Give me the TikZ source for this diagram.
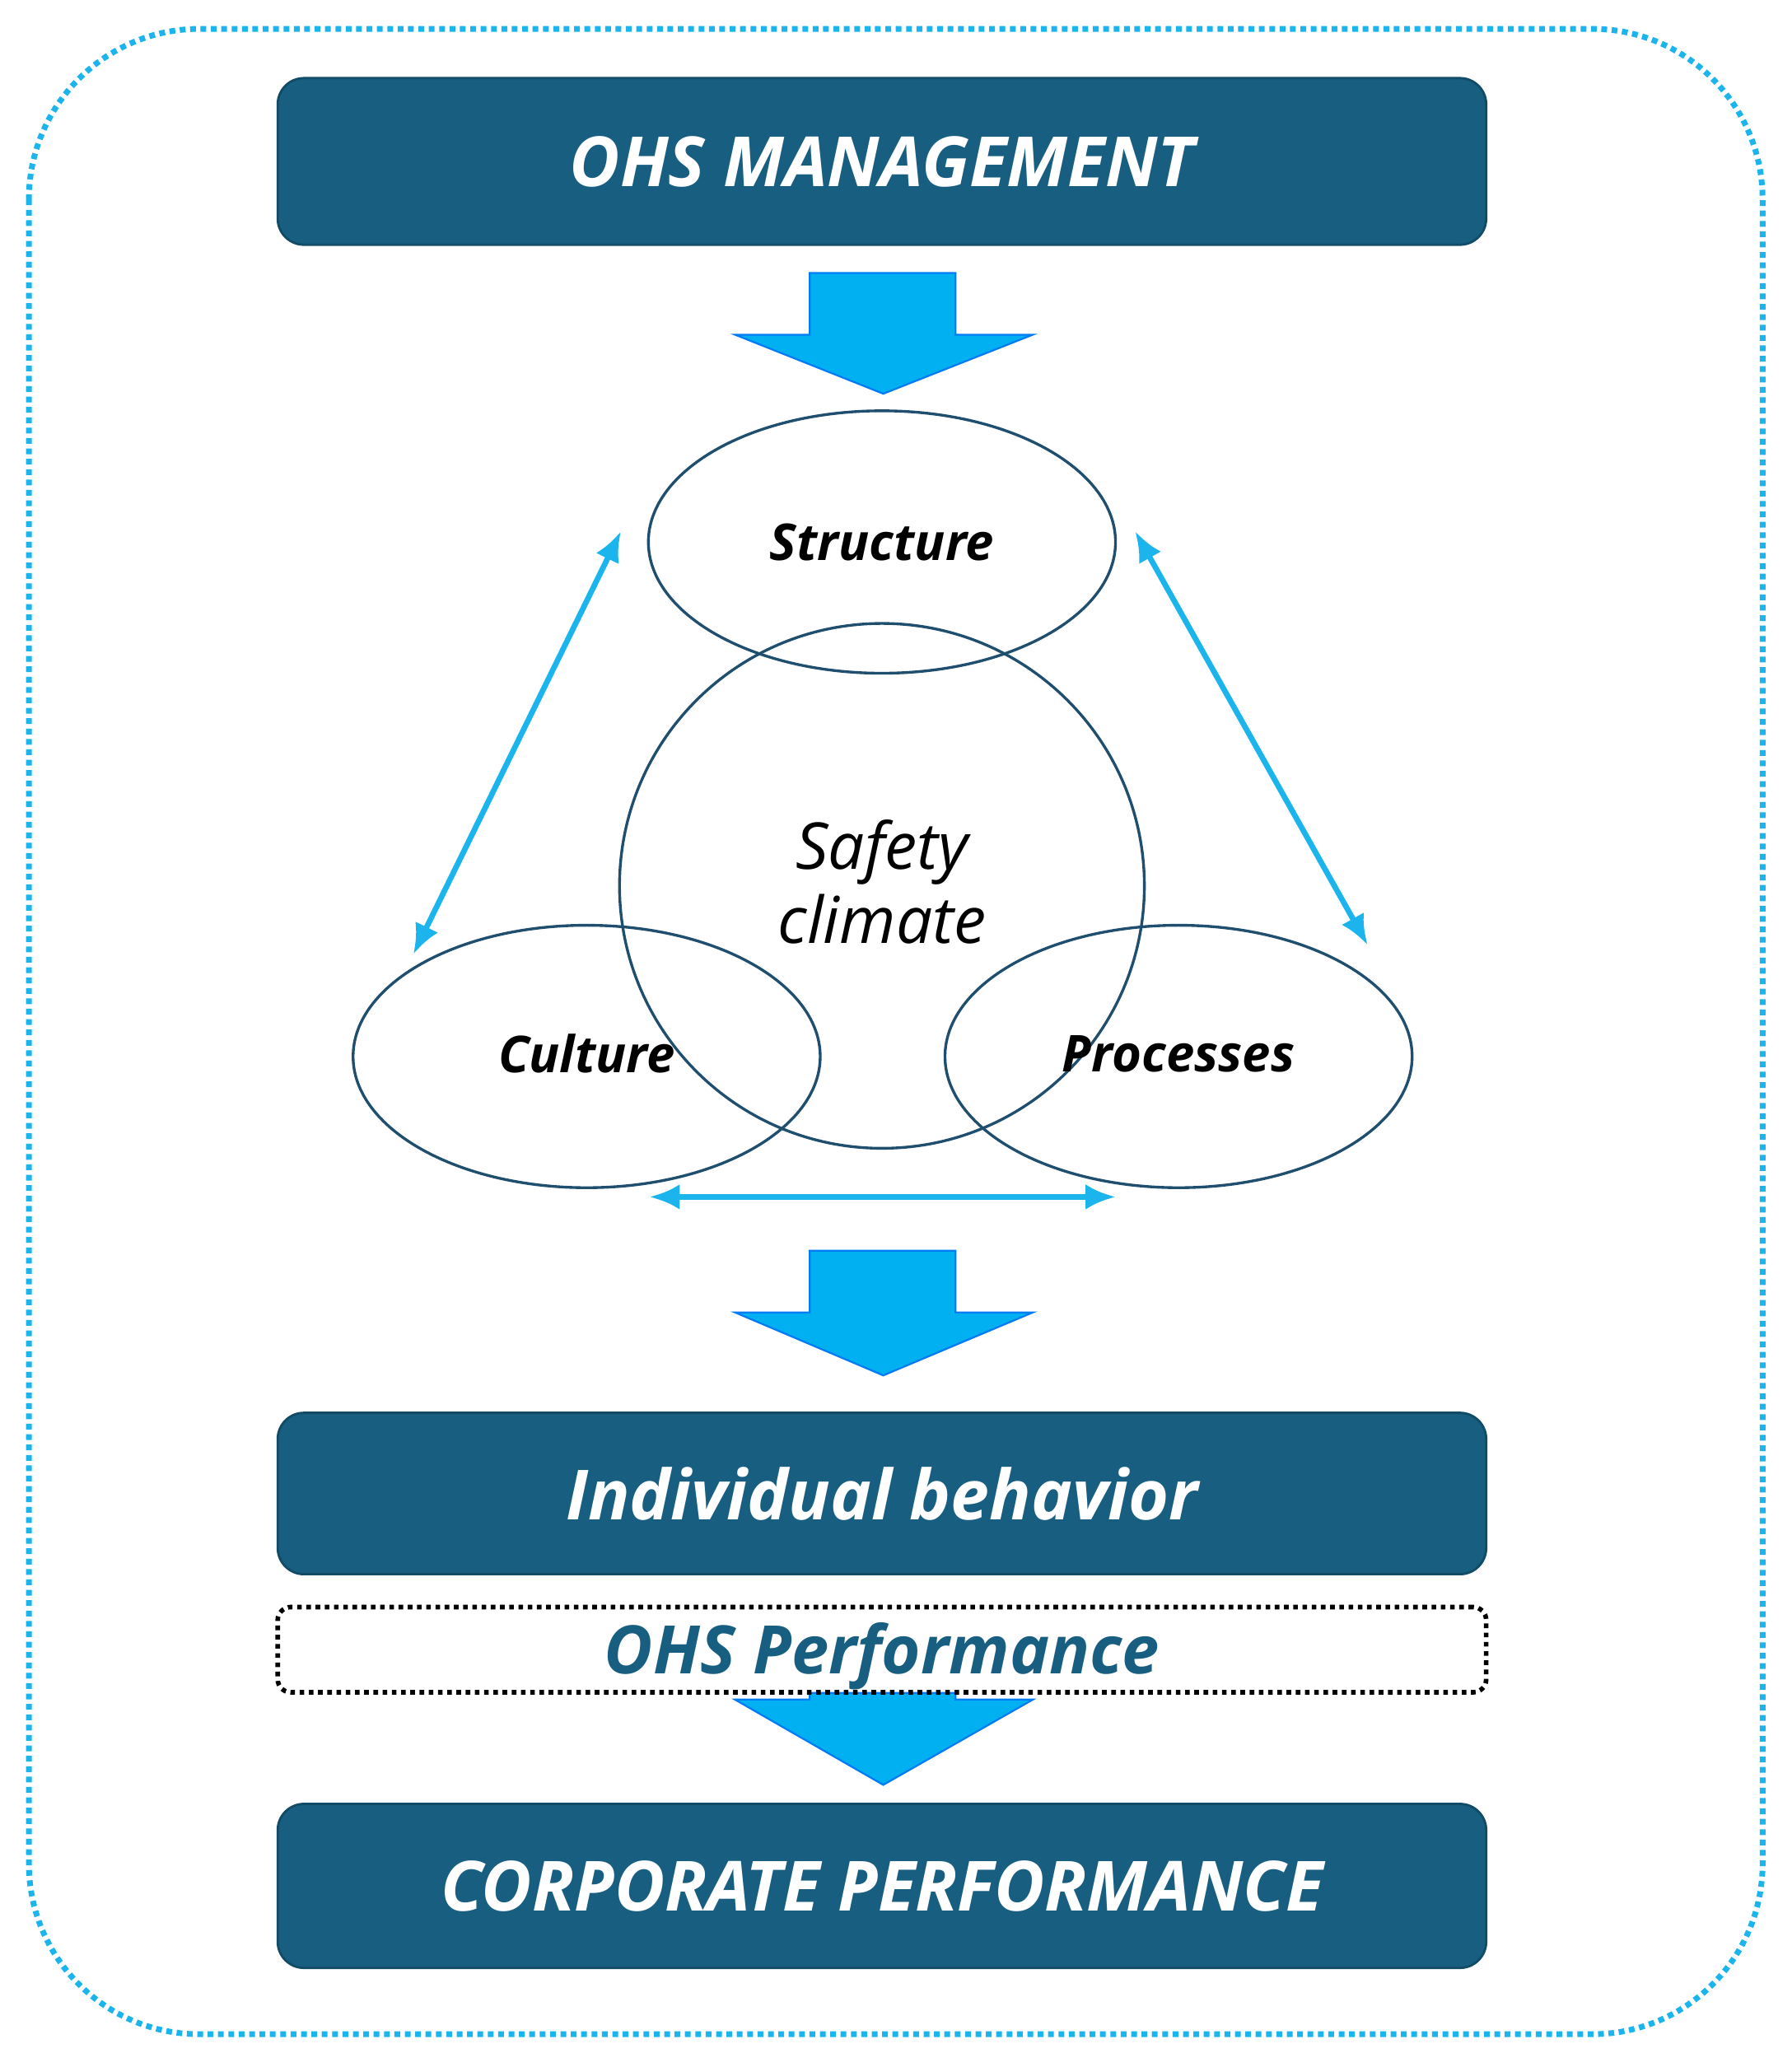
\documentclass[tikz,border=0pt]{standalone}
\usepackage{fontspec}
\setmainfont{Open Sans}
\usetikzlibrary{arrows.meta,shapes.geometric}
\definecolor{boxblue}{HTML}{175E80}
\definecolor{edge}{HTML}{1F4E6E}
\definecolor{cyanl}{HTML}{1CB4EC}
\definecolor{cyanf}{HTML}{00B0F0}
\begin{document}
\begin{tikzpicture}[x=0.02cm,y=-0.02cm,
  dark/.style={fill=boxblue,draw=boxblue!80!black,rounded corners=0.4cm,line width=1pt},
  btxt/.style={text=white,font=\bfseries\itshape\fontsize{30}{36}\selectfont},
  ell/.style={draw=edge,line width=1.2pt},
  bl/.style={draw=cyanl,line width=2.4pt,<->,>={Latex[length=13pt,width=11pt]}},
  barrow/.style={fill=cyanf,draw=cyanf!70!blue,line width=0.8pt}]
\useasboundingbox (0,0) rectangle (1365,1575);
\draw[cyanl,line width=2.5pt,dotted,rounded corners=2.6cm] (22,22) rectangle (1343,1550);
\node[dark,minimum width=18.42cm,minimum height=2.54cm] (ohs) at (672,123) {};
\node[btxt] at (ohs) {OHS MANAGEMENT};
\draw[barrow] (617,208) -- (728,208) -- (728,255) -- (787,255) -- (673,300) -- (560,255) -- (617,255) -- cycle;
\node[ell,ellipse,minimum width=7.12cm,minimum height=4cm,inner sep=0] (str) at (672,413) {};
\node[font=\bfseries\itshape\fontsize{22}{26}\selectfont] at (str) {Structure};
\node[draw=edge,line width=1.2pt,circle,minimum size=8cm,inner sep=0] (sc) at (672,675) {};
\node[align=center,font=\itshape\fontsize{28}{32}\selectfont] at (672,672) {Safety\\climate};
\node[ell,ellipse,minimum width=7.12cm,minimum height=4cm,inner sep=0] (cul) at (447,805) {};
\node[font=\bfseries\itshape\fontsize{22}{26}\selectfont] at (447,803) {Culture};
\node[ell,ellipse,minimum width=7.12cm,minimum height=4cm,inner sep=0] (pro) at (898,805) {};
\node[font=\bfseries\itshape\fontsize{22}{26}\selectfont] at (898,803) {Processes};
\coordinate (a1) at (473,405); \coordinate (a2) at (315,727);
\coordinate (b1) at (865,405); \coordinate (b2) at (1042,720);
\coordinate (c1) at (495,912); \coordinate (c2) at (850,912);
\draw[bl] (a1) -- (a2);
\draw[bl] (b1) -- (b2);
\draw[bl] (c1) -- (c2);
\draw[barrow] (617,953) -- (728,953) -- (728,1000) -- (787,1000) -- (673,1048) -- (560,1000) -- (617,1000) -- cycle;
\node[dark,minimum width=18.42cm,minimum height=2.46cm] (ib) at (672,1138) {};
\node[btxt] at (ib) {Individual behavior};
\draw[barrow] (617,1290) -- (728,1290) -- (728,1295) -- (787,1295) -- (673,1360) -- (560,1295) -- (617,1295) -- cycle;
\node[draw=black,line width=2pt,dotted,rounded corners=0.2cm,minimum width=18.42cm,minimum height=1.3cm] (perf) at (672,1257) {};
\node[text=boxblue,font=\bfseries\itshape\fontsize{29}{34}\selectfont] at (672,1262) {OHS Performance};
\node[dark,minimum width=18.42cm,minimum height=2.5cm] (cp) at (672,1437) {};
\node[btxt] at (cp) {CORPORATE PERFORMANCE};
\end{tikzpicture}
\end{document}
